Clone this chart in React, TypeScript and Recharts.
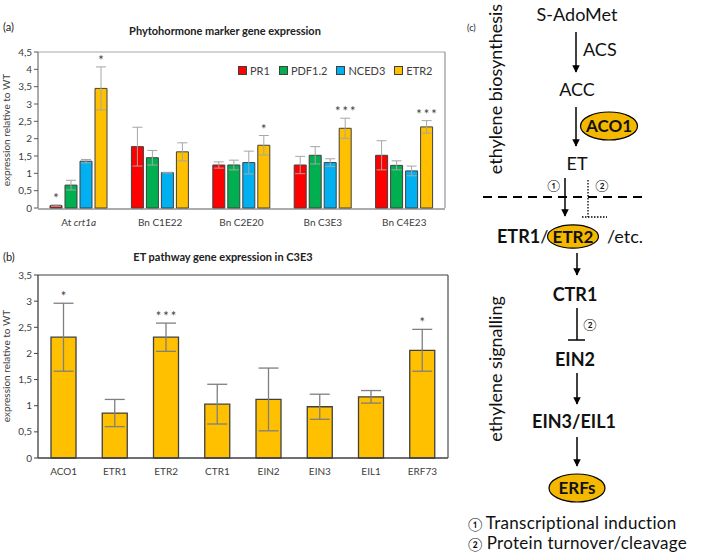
import React from 'react';
import { BarChart, Bar, XAxis, YAxis, ErrorBar, LabelList } from 'recharts';

const FONT = 'Lato, "Open Sans", sans-serif';
const TXT = '#404040';

// ---------- Panel (a) data ----------
const linesA = ['At crt1a', 'Bn C1E22', 'Bn C2E20', 'Bn C3E3', 'Bn C4E23'];
const genesA = ['PR1', 'PDF1.2', 'NCED3', 'ETR2'];
const colorsA = ['#ff0000', '#00b050', '#00b0f0', '#ffc000'];
const pr1Vals = [0.07, 1.77, 1.24, 1.24, 1.52];
const pr1Err = [0.02, 0.56, 0.09, 0.25, 0.42];
const pdfVals = [0.66, 1.45, 1.24, 1.52, 1.23];
const pdfErr = [0.14, 0.21, 0.14, 0.25, 0.13];
const ncedVals = [1.35, 1.02, 1.31, 1.31, 1.07];
const ncedErr = [0.05, 0.01, 0.33, 0.11, 0.14];
const etr2Vals = [3.45, 1.62, 1.81, 2.3, 2.34];
const etr2Err = [0.62, 0.26, 0.28, 0.29, 0.18];
const pr1Stars = ['*', '', '', '', ''];
const pdfStars = ['', '', '', '', ''];
const ncedStars = ['', '', '', '', ''];
const etr2Stars = ['*', '', '*', '***', '***'];
const ticksA = [0, 0.5, 1, 1.5, 2, 2.5, 3, 3.5, 4, 4.5];

// ---------- Panel (b) data ----------
const genesB = ['ACO1', 'ETR1', 'ETR2', 'CTR1', 'EIN2', 'EIN3', 'EIL1', 'ERF73'];
const valsB = [2.31, 0.86, 2.31, 1.03, 1.12, 0.98, 1.17, 2.06];
const errB = [0.65, 0.26, 0.27, 0.38, 0.6, 0.24, 0.12, 0.4];
const starsB = ['*', '', '***', '', '', '', '', '*'];
const ticksB = [0, 0.5, 1, 1.5, 2, 2.5, 3, 3.5];

const seriesA = [
  { name: genesA[0], vals: pr1Vals, errs: pr1Err, stars: pr1Stars, color: colorsA[0] },
  { name: genesA[1], vals: pdfVals, errs: pdfErr, stars: pdfStars, color: colorsA[1] },
  { name: genesA[2], vals: ncedVals, errs: ncedErr, stars: ncedStars, color: colorsA[2] },
  { name: genesA[3], vals: etr2Vals, errs: etr2Err, stars: etr2Stars, color: colorsA[3] },
];

const dataA = linesA.map((line, i) => {
  const row: any = { line };
  seriesA.forEach((s, k) => {
    row['v' + k] = s.vals[i];
    row['e' + k] = s.errs[i];
    row['s' + k] = s.stars[i];
  });
  return row;
});

const dataB = genesB.map((gene, i) => ({ gene, v: valsB[i], e: errB[i], s: starsB[i] }));

const fmt = (v: number) => String(v).replace('.', ',');

const makeStar = (vals: number[], errs: number[], gap: number) => (props: any) => {
  const vb = props.viewBox || props;
  const x = Number(vb.x ?? props.x);
  const y = Number(vb.y ?? props.y);
  const w = Number(vb.width ?? props.width);
  const h = Math.abs(Number(vb.height ?? props.height));
  const idx = props.index;
  const value = props.value;
  if (!value || idx == null) return null;
  const ppu = h / vals[idx];
  const top = y - errs[idx] * ppu;
  return (
    <text
      x={x + w / 2 + (value.length > 1 ? 1 : 0)}
      y={top - gap}
      textAnchor="middle"
      fontSize={13}
      fill={TXT}
      fontFamily={FONT}
      letterSpacing={value.length > 1 ? 2 : 0}
    >
      {value}
    </text>
  );
};

const TickA = (props: any) => {
  const { x, y, payload } = props;
  const label = String(payload.value);
  const italic = label.startsWith('At ');
  return (
    <text x={x} y={y} dy="0.71em" textAnchor="middle" fontSize={10} fill={TXT} fontFamily={FONT}>
      {italic ? (
        <>
          <tspan>At </tspan>
          <tspan fontStyle="italic">{label.slice(3)}</tspan>
        </>
      ) : (
        label
      )}
    </text>
  );
};

const TickB = (props: any) => {
  const { x, y, payload } = props;
  return (
    <text x={x} y={y} dy="0.71em" textAnchor="middle" fontSize={10} fill={TXT} fontFamily={FONT}>
      {payload.value}
    </text>
  );
};

const Arrow = ({ x, y1, y2 }: { x: number; y1: number; y2: number }) => (
  <line x1={x} y1={y1} x2={x} y2={y2 - 1} stroke="#000" strokeWidth={1.5} markerEnd="url(#ah)" />
);

const GOLD = '#f5b800';

const Diagram = () => (
  <svg
    width={709}
    height={559}
    style={{ position: 'absolute', left: 0, top: 0, pointerEvents: 'none' }}
    fontFamily={FONT}
  >
    <defs>
      <marker id="ah" viewBox="0 0 10 10" refX="9" refY="5" markerWidth="5" markerHeight="5.5" orient="auto">
        <path d="M0,0 L10,5 L0,10 z" fill="#000" />
      </marker>
    </defs>
    {/* panel labels and titles */}
    <text x={3} y={31} fontSize={11} fill="#222">(a)</text>
    <text x={225} y={35} fontSize={11} fontWeight="bold" textAnchor="middle" fill="#222">
      Phytohormone marker gene expression
    </text>
    <text x={3} y={261} fontSize={11} fill="#222">(b)</text>
    <text x={223} y={261} fontSize={11} fontWeight="bold" textAnchor="middle" fill="#222">
      ET pathway gene expression in C3E3
    </text>
    <text x={10} y={130} fontSize={10} fill={TXT} textAnchor="middle" transform="rotate(-90,10,130)">
      expression relative to WT
    </text>
    <text x={10} y={366} fontSize={10} fill={TXT} textAnchor="middle" transform="rotate(-90,10,366)">
      expression relative to WT
    </text>

    {/* panel (c) */}
    <text x={467} y={31} fontSize={9} fill="#222">(c)</text>
    <text x={502} y={89} fontSize={18} fill="#111" textAnchor="middle" transform="rotate(-90,502,89)">
      ethylene biosynthesis
    </text>
    <text x={502} y={369} fontSize={18} fill="#111" textAnchor="middle" transform="rotate(-90,502,369)">
      ethylene signalling
    </text>

    <text x={577} y={21} fontSize={18} textAnchor="middle" fill="#111">S-AdoMet</text>
    <Arrow x={576} y1={32} y2={73} />
    <text x={583} y={56} fontSize={18} fill="#111">ACS</text>
    <text x={577} y={96} fontSize={18} textAnchor="middle" fill="#111">ACC</text>
    <Arrow x={576} y1={107} y2={147} />
    <ellipse cx={609} cy={126} rx={28.5} ry={14} fill={GOLD} stroke="#000" strokeWidth={1.2} />
    <text x={609} y={132} fontSize={17} fontWeight="bold" textAnchor="middle" fill="#111">ACO1</text>
    <text x={577} y={170} fontSize={18} textAnchor="middle" fill="#111">ET</text>

    <Arrow x={565} y1={178} y2={217} />
    <text x={554} y={190} fontSize={12} textAnchor="middle" fill="#111">①</text>
    <line x1={588} y1={180} x2={588} y2={217} stroke="#000" strokeWidth={1.3} strokeDasharray="1.5 1.5" />
    <line x1={582} y1={217} x2={607} y2={217} stroke="#000" strokeWidth={1.3} strokeDasharray="1.5 1.5" />
    <text x={602} y={190} fontSize={12} textAnchor="middle" fill="#111">②</text>
    <line x1={483} y1={197} x2={647} y2={197} stroke="#000" strokeWidth={1.8} strokeDasharray="9 6" />

    <text x={497} y={243} fontSize={18} fill="#111">
      <tspan fontWeight="bold">ETR1</tspan>
      <tspan>/</tspan>
    </text>
    <ellipse cx={573} cy={236.5} rx={25.5} ry={11.7} fill={GOLD} stroke="#000" strokeWidth={1.2} />
    <text x={573} y={243} fontSize={17} fontWeight="bold" textAnchor="middle" fill="#111">ETR2</text>
    <text x={607} y={243} fontSize={18} fill="#111">/etc.</text>

    <Arrow x={577} y1={253} y2={276} />
    <text x={575} y={301} fontSize={18} fontWeight="bold" textAnchor="middle" fill="#111">CTR1</text>
    <line x1={577} y1={308} x2={577} y2={340} stroke="#000" strokeWidth={1.5} />
    <line x1={568} y1={340} x2={585} y2={340} stroke="#000" strokeWidth={1.5} />
    <text x={590} y={329} fontSize={12} textAnchor="middle" fill="#111">②</text>
    <text x={575} y={366} fontSize={18} fontWeight="bold" textAnchor="middle" fill="#111">EIN2</text>
    <Arrow x={577} y1={373} y2={405} />
    <text x={574} y={428} fontSize={18} fontWeight="bold" textAnchor="middle" fill="#111">EIN3/EIL1</text>
    <Arrow x={577} y1={437} y2={467} />
    <ellipse cx={577} cy={488} rx={28} ry={14} fill={GOLD} stroke="#000" strokeWidth={1.2} />
    <text x={577} y={494} fontSize={17} fontWeight="bold" textAnchor="middle" fill="#111">ERFs</text>

    <text x={468} y={529} fontSize={17} fill="#111" letterSpacing={0.3}>
      <tspan fontSize={13}>①</tspan>
      <tspan dx={3}>Transcriptional induction</tspan>
    </text>
    <text x={468} y={549} fontSize={17} fill="#111" letterSpacing={0.3}>
      <tspan fontSize={13}>②</tspan>
      <tspan dx={4}>Protein turnover/cleavage</tspan>
    </text>
  </svg>
);

const Legend = () => (
  <div
    style={{
      position: 'absolute',
      left: 238,
      top: 64,
      display: 'flex',
      alignItems: 'center',
      fontFamily: FONT,
      fontSize: 11,
      color: TXT,
      whiteSpace: 'nowrap',
    }}
  >
    {seriesA.map((s) => (
      <div key={s.name} style={{ display: 'flex', alignItems: 'center', marginRight: 9 }}>
        <span
          style={{
            display: 'inline-block',
            width: 7,
            height: 7,
            background: s.color,
            border: '1px solid #404040',
            marginRight: 3,
          }}
        />
        <span>{s.name}</span>
      </div>
    ))}
  </div>
);

export default function App() {
  return (
    <div style={{ position: 'absolute', left: 0, top: 0, width: 709, height: 559, background: '#fff', overflow: 'hidden' }}>
      <div style={{ position: 'absolute', left: 0, top: 0 }}>
        <BarChart
          width={460}
          height={235}
          data={dataA}
          margin={{ top: 51, right: 14, left: 8, bottom: 25 }}
          barCategoryGap={12}
          barGap={3}
        >
          <XAxis
            xAxisId="cat"
            dataKey="line"
            height={1}
            interval={0}
            tickLine={false}
            tickSize={6}
            tickMargin={4}
            axisLine={{ stroke: '#595959' }}
            tick={<TickA />}
          />
          <XAxis
            xAxisId="bnd"
            type="number"
            domain={[0, 5]}
            ticks={[0, 1, 2, 3, 4, 5]}
            height={1}
            axisLine={false}
            tick={false}
            tickSize={4}
            tickLine={{ stroke: '#595959' }}
          />
          <XAxis
            xAxisId="top"
            orientation="top"
            type="number"
            domain={[0, 1]}
            ticks={[0, 1]}
            height={1}
            tick={false}
            tickLine={false}
            axisLine={{ stroke: '#a6a6a6' }}
          />
          <YAxis
            yAxisId="v"
            width={30}
            domain={[0, 4.5]}
            ticks={ticksA}
            tickFormatter={fmt}
            tickSize={4}
            tickMargin={2}
            axisLine={{ stroke: '#595959' }}
            tickLine={{ stroke: '#595959' }}
            tick={{ fontSize: 10, fill: TXT, fontFamily: FONT }}
            interval={0}
          />
          <YAxis
            yAxisId="right"
            orientation="right"
            width={1}
            type="number"
            domain={[0, 1]}
            ticks={[0, 1]}
            tick={false}
            tickLine={false}
            axisLine={{ stroke: '#7f7f7f' }}
          />
          {seriesA.map((s, k) => (
            <Bar
              key={s.name}
              xAxisId="cat"
              yAxisId="v"
              dataKey={'v' + k}
              name={s.name}
              fill={s.color}
              stroke="#404040"
              strokeWidth={1}
              isAnimationActive={false}
            >
              <ErrorBar dataKey={'e' + k} width={5} stroke="#a6a6a6" strokeWidth={1} />
              <LabelList dataKey={'s' + k} content={makeStar(s.vals, s.errs, 2)} />
            </Bar>
          ))}
        </BarChart>
      </div>
      <Legend />

      <div style={{ position: 'absolute', left: 0, top: 250 }}>
        <BarChart
          width={460}
          height={235}
          data={dataB}
          margin={{ top: 24, right: 11, left: 8, bottom: 26 }}
          barCategoryGap={13}
        >
          <XAxis
            xAxisId="cat"
            dataKey="gene"
            height={1}
            interval={0}
            tickLine={false}
            tickSize={6}
            tickMargin={4}
            axisLine={{ stroke: '#404040', strokeWidth: 1.3 }}
            tick={<TickB />}
          />
          <XAxis
            xAxisId="top"
            orientation="top"
            type="number"
            domain={[0, 1]}
            ticks={[0, 1]}
            height={1}
            tick={false}
            tickLine={false}
            axisLine={{ stroke: '#7f7f7f', strokeWidth: 1.3 }}
          />
          <YAxis
            yAxisId="v"
            width={30}
            domain={[0, 3.5]}
            ticks={ticksB}
            tickFormatter={fmt}
            tickSize={4}
            tickMargin={2}
            axisLine={{ stroke: '#404040', strokeWidth: 1.3 }}
            tickLine={{ stroke: '#404040' }}
            tick={{ fontSize: 10, fill: TXT, fontFamily: FONT }}
            interval={0}
          />
          <YAxis
            yAxisId="right"
            orientation="right"
            width={1}
            type="number"
            domain={[0, 1]}
            ticks={[0, 1]}
            tick={false}
            tickLine={false}
            axisLine={{ stroke: '#595959', strokeWidth: 1.3 }}
          />
          <Bar
            xAxisId="cat"
            yAxisId="v"
            dataKey="v"
            fill="#ffc000"
            stroke="#404040"
            strokeWidth={1.3}
            isAnimationActive={false}
          >
            <ErrorBar dataKey="e" width={10} stroke="#7f7f7f" strokeWidth={1.3} />
            <LabelList dataKey="s" content={makeStar(valsB, errB, 2)} />
          </Bar>
        </BarChart>
      </div>

      <Diagram />
    </div>
  );
}
